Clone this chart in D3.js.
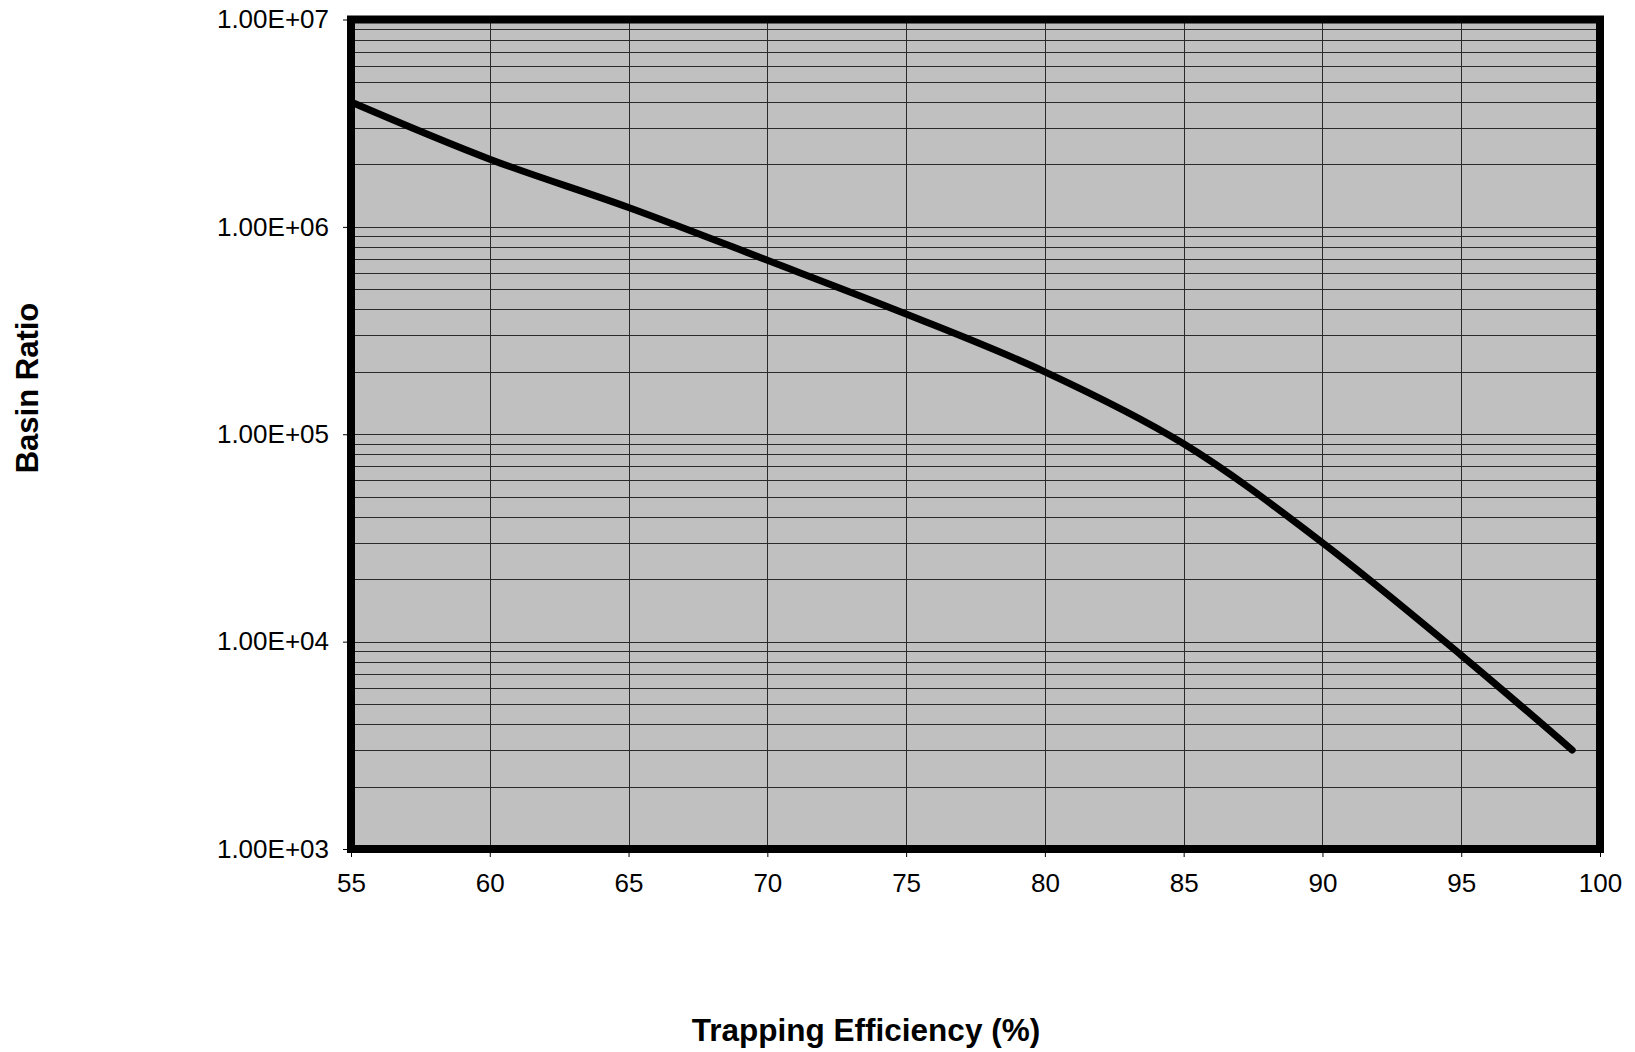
<!DOCTYPE html>
<html>
<head>
<meta charset="utf-8">
<script src="https://cdn.jsdelivr.net/npm/d3@7"></script>
<style>
  body { margin: 0; background: #fff; }
  text { font-family: "Liberation Sans", Arial, sans-serif; }
</style>
</head>
<body>
<div id="chart"></div>
<script>
const W = 1635, H = 1052;
const PLOT = { left: 351, right: 1600, top: 19.5, bottom: 849 };

// data
const efficiency = [55, 60, 65, 70, 75, 80, 85, 90, 95, 99];
const basinRatio = [4.0e6, 2.12e6, 1.24e6, 6.9e5, 3.8e5, 2.0e5, 9.0e4, 3.0e4, 8.6e3, 3.0e3];
const xTicks = [55, 60, 65, 70, 75, 80, 85, 90, 95, 100];
const yTicks = [1e3, 1e4, 1e5, 1e6, 1e7];
const yTickLabels = ["1.00E+03", "1.00E+04", "1.00E+05", "1.00E+06", "1.00E+07"];

const svg = d3.select("#chart").append("svg")
    .attr("width", W)
    .attr("height", H);

let x = d3.scaleLinear().domain([55, 100]).range([PLOT.left, PLOT.right]);
let y = d3.scaleLog().domain([1e3, 1e7]).range([PLOT.bottom, PLOT.top]);

// plot background
svg.append("rect")
    .attr("x", PLOT.left).attr("y", PLOT.top)
    .attr("width", PLOT.right - PLOT.left)
    .attr("height", PLOT.bottom - PLOT.top)
    .attr("fill", "#c0c0c0");

// grid
const grid = svg.append("g").attr("stroke", "#2a2a2a").attr("stroke-width", 1);
grid.selectAll("line.h")
    .data(y.ticks())
    .enter().append("line")
    .attr("class", "h")
    .attr("x1", PLOT.left).attr("x2", PLOT.right)
    .attr("y1", d => Math.round(y(d)) + 0.5)
    .attr("y2", d => Math.round(y(d)) + 0.5);
grid.selectAll("line.v")
    .data(xTicks)
    .enter().append("line")
    .attr("class", "v")
    .attr("y1", PLOT.top).attr("y2", PLOT.bottom)
    .attr("x1", d => Math.round(x(d)) + 0.5)
    .attr("x2", d => Math.round(x(d)) + 0.5);

// axes
const yAxis = svg.append("g")
    .attr("transform", "translate(" + PLOT.left + ",0)")
    .call(d3.axisLeft(y).tickValues(yTicks).tickSize(8).tickPadding(14)
        .tickFormat((d, i) => yTickLabels[i]));
const xAxis = svg.append("g")
    .attr("transform", "translate(0," + PLOT.bottom + ")")
    .call(d3.axisBottom(x).tickValues(xTicks).tickSize(8).tickPadding(12));
[xAxis, yAxis].forEach(a => {
    a.select(".domain").remove();
    a.selectAll("line").attr("stroke", "#000");
    a.selectAll("text")
        .attr("fill", "#000")
        .style("font-size", "26px");
});
xAxis.selectAll("text").attr("dy", "0.9em");

// curve
svg.append("path")
    .datum(efficiency.map((e, i) => ({ x: e, y: basinRatio[i] })))
    .attr("d", d3.line()
        .x(d => x(d.x))
        .y(d => y(d.y))
        .curve(d3.curveCatmullRom.alpha(0.5)))
    .attr("fill", "none")
    .attr("stroke", "#000")
    .attr("stroke-width", 7)
    .attr("stroke-linecap", "round")
    .attr("stroke-linejoin", "round");

// frame
svg.append("rect")
    .attr("x", PLOT.left).attr("y", PLOT.top)
    .attr("width", PLOT.right - PLOT.left)
    .attr("height", PLOT.bottom - PLOT.top)
    .attr("fill", "none")
    .attr("stroke", "#000")
    .attr("stroke-width", 8);

// titles
svg.append("text")
    .attr("x", 866).attr("y", 1041)
    .attr("text-anchor", "middle")
    .style("font-size", "31.5px")
    .style("font-weight", "bold")
    .text("Trapping Efficiency (%)");
svg.append("text")
    .attr("transform", "translate(38,388) rotate(-90)")
    .attr("text-anchor", "middle")
    .style("font-size", "31px")
    .style("font-weight", "bold")
    .text("Basin Ratio");
</script>
</body>
</html>
